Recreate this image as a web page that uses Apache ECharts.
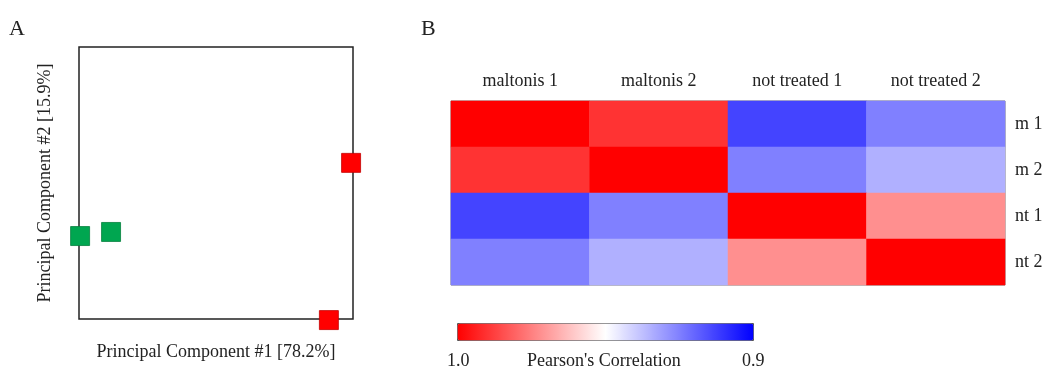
<!DOCTYPE html>
<html>
<head>
<meta charset="utf-8">
<script src="https://cdn.jsdelivr.net/npm/echarts@6/dist/echarts.min.js"></script>
<style>
  html, body { margin: 0; padding: 0; background: #fff; }
  #chart { width: 1054px; height: 367px; }
</style>
</head>
<body>
<div id="chart"></div>
<script>
// panel A: PCA scores (axis units arbitrary)
const maltonisPoints = [[99.3, 57.4], [91.2, -0.4]]
const untreatedPoints = [[0.4, 30.5], [11.7, 32.0]]

// panel B: Pearson correlation between samples
const sampleNames = ['maltonis 1', 'maltonis 2', 'not treated 1', 'not treated 2']
const rowNames = ['m 1', 'm 2', 'nt 1', 'nt 2']
const corr = [
  [1.0, 0.990, 0.9133, 0.925],
  [0.990, 1.0, 0.925, 0.9345],
  [0.9133, 0.925, 1.0, 0.972],
  [0.925, 0.9345, 0.972, 1.0]
]
const colorbarLabels = ['1.0', '0.9']

const FONT = '"Liberation Serif", "DejaVu Serif", serif'
const TXT = '#222'

const heatData = []
corr.forEach((row, i) => {
  row.forEach((v, j) => heatData.push([j, i, v]))
})

const chart = echarts.init(document.getElementById('chart'))
chart.setOption({
  animation: false,
  textStyle: { fontFamily: FONT },
  title: [
    { text: 'A', left: 4, top: 13, textStyle: { fontFamily: FONT, fontSize: 22, fontWeight: 'normal', color: TXT } },
    { text: 'B', left: 416, top: 13, textStyle: { fontFamily: FONT, fontSize: 22, fontWeight: 'normal', color: TXT } }
  ],
  grid: [
    { left: 79, top: 47, width: 274, height: 272, outerBoundsMode: 'none', show: true, borderColor: '#222', borderWidth: 1.5, backgroundColor: '#fff' },
    { left: 451, top: 101, width: 554, height: 184, outerBoundsMode: 'none', show: true, borderColor: '#777', borderWidth: 1 }
  ],
  xAxis: [
    {
      gridIndex: 0, type: 'value', min: 0, max: 100,
      name: 'Principal Component #1 [78.2%]', nameLocation: 'middle', nameGap: 24,
      nameTextStyle: { fontFamily: FONT, fontSize: 18, color: TXT },
      axisLine: { show: false }, axisTick: { show: false }, axisLabel: { show: false }, splitLine: { show: false }
    },
    {
      gridIndex: 1, type: 'category', data: sampleNames, position: 'top',
      axisLine: { show: false }, axisTick: { show: false }, splitLine: { show: false },
      axisLabel: { fontFamily: FONT, fontSize: 18, color: TXT, margin: 11 }
    }
  ],
  yAxis: [
    {
      gridIndex: 0, type: 'value', min: 0, max: 100,
      name: 'Principal Component #2 [15.9%]', nameLocation: 'middle', nameGap: 25, nameRotate: 90,
      nameTextStyle: { fontFamily: FONT, fontSize: 18, color: TXT },
      axisLine: { show: false }, axisTick: { show: false }, axisLabel: { show: false }, splitLine: { show: false }
    },
    {
      gridIndex: 1, type: 'category', data: rowNames, position: 'right', inverse: true,
      axisLine: { show: false }, axisTick: { show: false }, splitLine: { show: false },
      axisLabel: { fontFamily: FONT, fontSize: 18, color: TXT, margin: 10 }
    }
  ],
  visualMap: {
    type: 'continuous',
    seriesIndex: 2,
    min: 0.9, max: 1.0,
    orient: 'horizontal',
    inverse: true,
    calculable: false,
    showLabel: false,
    text: null,
    left: 457, top: 323,
    itemWidth: 17, itemHeight: 296,
    padding: 0,
    borderColor: '#555', borderWidth: 1,
    inRange: { color: ['#0000ff', '#ffffff', '#ff0000'] }
  },
  graphic: [
    { type: 'text', left: 447, top: 352, style: { text: colorbarLabels[0], font: '18px ' + FONT, fill: TXT } },
    { type: 'text', left: 742, top: 352, style: { text: colorbarLabels[1], font: '18px ' + FONT, fill: TXT } },
    { type: 'text', left: 527, top: 352, style: { text: "Pearson's Correlation", font: '18px ' + FONT, fill: TXT } }
  ],
  series: [
    {
      type: 'scatter', xAxisIndex: 0, yAxisIndex: 0, clip: false,
      symbol: 'rect', symbolSize: 19,
      itemStyle: { color: '#ff0000', opacity: 1, borderColor: '#c40000', borderWidth: 0.8 },
      data: maltonisPoints
    },
    {
      type: 'scatter', xAxisIndex: 0, yAxisIndex: 0, clip: false,
      symbol: 'rect', symbolSize: 19,
      itemStyle: { color: '#00a650', opacity: 1, borderColor: '#05803e', borderWidth: 0.8 },
      data: untreatedPoints
    },
    {
      type: 'heatmap', xAxisIndex: 1, yAxisIndex: 1,
      data: heatData,
      itemStyle: { borderWidth: 0 },
      emphasis: { disabled: true }
    }
  ]
})
</script>
</body>
</html>
